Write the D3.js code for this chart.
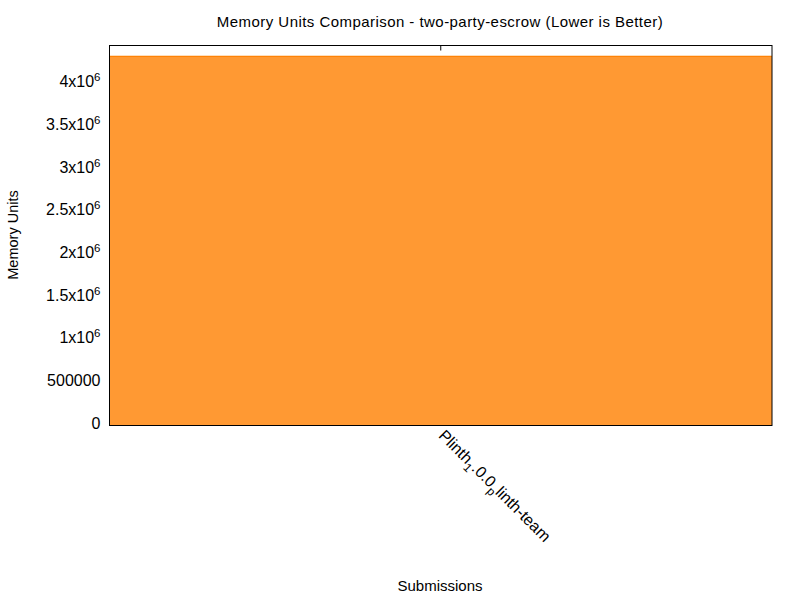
<!DOCTYPE html>
<html>
<head>
<meta charset="utf-8">
<script src="https://cdn.jsdelivr.net/npm/d3@7"></script>
<style>
  body { margin: 0; background: #fff; }
  text { font-family: "Liberation Sans", Arial, sans-serif; fill: #000; }
</style>
</head>
<body>
<div id="chart"></div>
<script>
// data
var submissions = ["Plinth_1.0.0_plinth-team"];
var memoryUnits = [4335000];
var yTicks = [0, 500000, 1000000, 1500000, 2000000, 2500000, 3000000, 3500000, 4000000];

var w = 800, h = 600;
var margin = { top: 45.5, right: 28, bottom: 174.5, left: 109.5 };
var pw = w - margin.left - margin.right;
var ph = h - margin.top - margin.bottom;

var svg = d3.select("#chart")
  .append("svg")
  .attr("width", w)
  .attr("height", h);

var g = svg.append("g")
  .attr("transform", "translate(" + margin.left + "," + margin.top + ")");

var xScale = d3.scaleBand()
  .domain(submissions)
  .range([0, pw])
  .padding(0);

var yScale = d3.scaleLinear()
  .domain([0, d3.max(memoryUnits) * 1.028])
  .range([ph, 0]);

// bars
g.selectAll("rect.bar")
  .data(memoryUnits)
  .enter()
  .append("rect")
  .attr("class", "bar")
  .attr("x", function(d, i) { return xScale(submissions[i]); })
  .attr("y", function(d) { return yScale(d); })
  .attr("width", xScale.bandwidth())
  .attr("height", function(d) { return ph - yScale(d); })
  .attr("fill", "#ff9933");

g.selectAll("line.bartop")
  .data(memoryUnits)
  .enter()
  .append("line")
  .attr("class", "bartop")
  .attr("x1", function(d, i) { return xScale(submissions[i]); })
  .attr("x2", function(d, i) { return xScale(submissions[i]) + xScale.bandwidth(); })
  .attr("y1", function(d) { return yScale(d) + 0.5; })
  .attr("y2", function(d) { return yScale(d) + 0.5; })
  .attr("stroke", "#ff8000")
  .attr("stroke-width", 1);

// y tick labels (gnuplot style 4x10^6)
function yLabel(t, d) {
  if (d === 0 || d === 500000) { t.text(d); return; }
  var m = d / 1e6;
  t.append("tspan").text(m + "x10");
  t.append("tspan").attr("dy", -6).attr("font-size", "11.5px").text("6");
}

g.selectAll("text.ytick")
  .data(yTicks)
  .enter()
  .append("text")
  .attr("class", "ytick")
  .attr("x", -9)
  .attr("y", function(d) { return yScale(d) + 3; })
  .attr("text-anchor", "end")
  .attr("font-size", "16px")
  .each(function(d) { yLabel(d3.select(this), d); });

// frame
g.append("rect")
  .attr("x", 0)
  .attr("y", 0)
  .attr("width", pw)
  .attr("height", ph)
  .attr("fill", "none")
  .attr("stroke", "#000")
  .attr("stroke-width", 1);

// top mirror x tick
g.selectAll("line.xtick")
  .data(submissions)
  .enter()
  .append("line")
  .attr("class", "xtick")
  .attr("x1", function(d) { return xScale(d) + xScale.bandwidth() / 2; })
  .attr("x2", function(d) { return xScale(d) + xScale.bandwidth() / 2; })
  .attr("y1", 0)
  .attr("y2", 5)
  .attr("stroke", "#000");

// x tick labels with gnuplot enhanced subscripts
g.selectAll("text.xlab")
  .data(submissions)
  .enter()
  .append("text")
  .attr("class", "xlab")
  .attr("font-size", "16px")
  .attr("transform", function(d) {
    return "translate(" + (xScale(d) + xScale.bandwidth() / 2 - 3) + "," + (ph + 11) + ") rotate(45)";
  })
  .each(function(d) {
    var t = d3.select(this);
    var parts = d.split("_");
    t.append("tspan").text(parts[0]);
    for (var i = 1; i < parts.length; i++) {
      t.append("tspan").attr("dy", 5).attr("font-size", "12px").text(parts[i].charAt(0));
      t.append("tspan").attr("dy", -5).text(parts[i].slice(1));
    }
  });

// title and axis labels
svg.append("text")
  .attr("x", 440)
  .attr("y", 27)
  .attr("text-anchor", "middle")
  .attr("font-size", "15px")
  .attr("letter-spacing", "0.45px")
  .text("Memory Units Comparison - two-party-escrow (Lower is Better)");

svg.append("text")
  .attr("x", 440)
  .attr("y", 591)
  .attr("text-anchor", "middle")
  .attr("font-size", "15px")
  .text("Submissions");

svg.append("text")
  .attr("transform", "translate(18,235) rotate(-90)")
  .attr("text-anchor", "middle")
  .attr("font-size", "14.5px")
  .text("Memory Units");
</script>
</body>
</html>
